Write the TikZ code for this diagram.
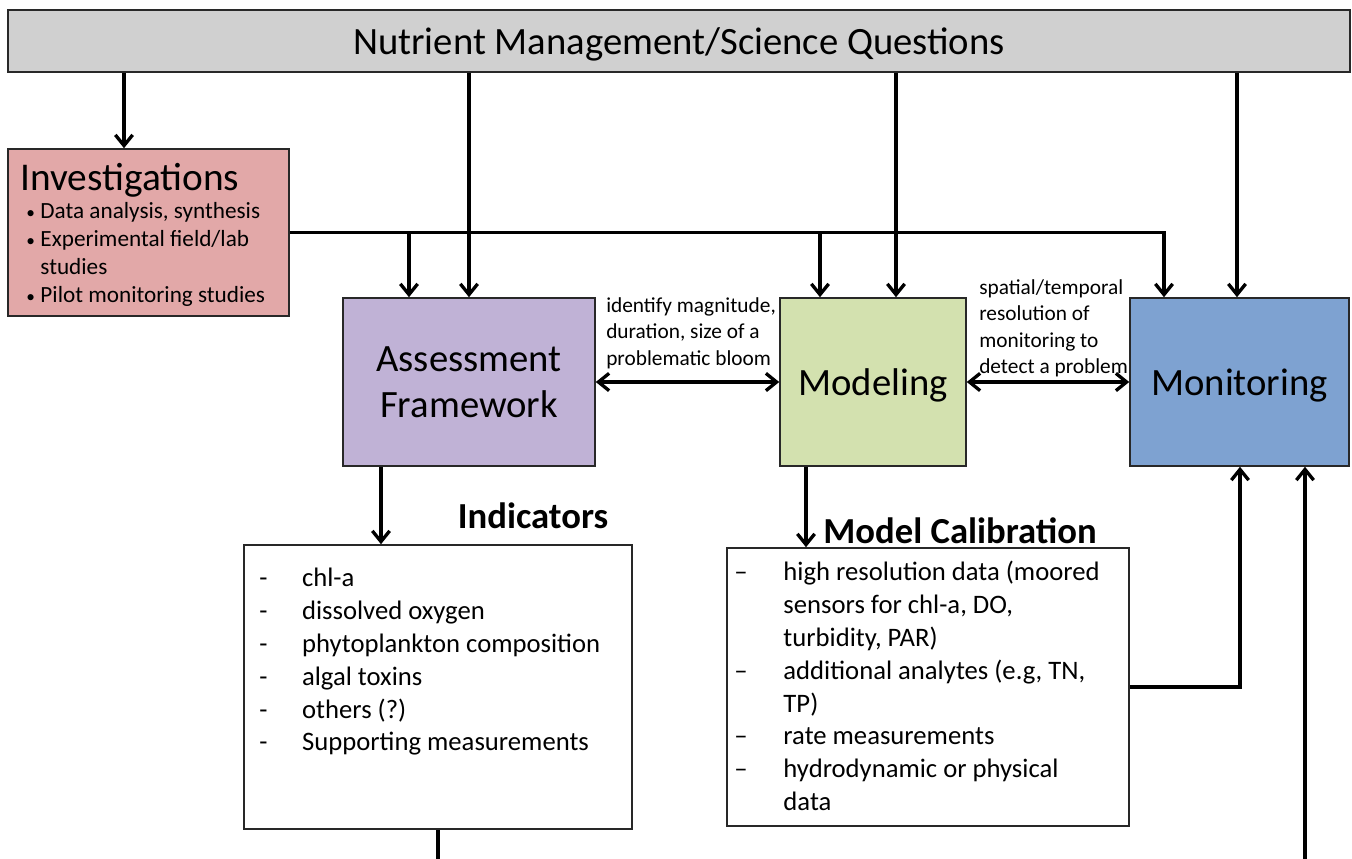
\documentclass[tikz,border=0pt]{standalone}
\usepackage{fontspec}
\setmainfont{Carlito}
\usetikzlibrary{arrows.meta,positioning,calc}

\definecolor{topgray}{RGB}{208,208,208}
\definecolor{invred}{RGB}{226,168,168}
\definecolor{afpurple}{RGB}{192,178,214}
\definecolor{modgreen}{RGB}{211,225,175}
\definecolor{monblue}{RGB}{126,162,209}
\definecolor{edgegray}{RGB}{40,40,40}

\newcommand{\invbullet}{\makebox[10.5pt][l]{\fontsize{13}{13}\selectfont\textbullet}}

\tikzset{
  box/.style={draw=edgegray, line width=1.2pt, inner sep=0pt},
  arr/.style={line width=2.5pt, -{Straight Barb[length=8pt,width=13pt]}},
  dblarr/.style={line width=2.5pt, {Straight Barb[length=8pt,width=13pt]}-{Straight Barb[length=8pt,width=13pt]}},
  plain/.style={line width=2.5pt},
  bigtext/.style={font=\fontsize{29}{34.5}\selectfont},
  note/.style={font=\fontsize{16}{19.9}\selectfont, align=left, inner sep=0pt},
  listtext/.style={font=\fontsize{20}{24.6}\selectfont, align=left, inner sep=0pt},
  heading/.style={font=\fontsize{27.5}{32}\selectfont\bfseries, inner sep=0pt},
}

\begin{document}
\begin{tikzpicture}[x=0.75pt,y=-0.75pt]
        \useasboundingbox (0,0) rectangle (1352,859);

        % Top box
        \node[box, fill=topgray, minimum width=1006.5pt, minimum height=46.5pt, text depth=0pt, bigtext] (top) at (679,41) {Nutrient Management/Science Questions};

        % Investigations box
        \node[box, fill=invred, minimum width=210.75pt, minimum height=125.25pt] (inv) at (148.5,232.5) {};
        \node[anchor=north west, inner sep=0pt, text depth=0pt, font=\fontsize{29.5}{34.5}\selectfont] (invTitle) at ([shift={(13,15)}]inv.north west) {Investigations};
        \node[anchor=north west, inner sep=0pt, align=left, font=\fontsize{17.4}{21}\selectfont] (invList) at ([shift={(19,53.5)}]inv.north west)
          {\invbullet Data analysis, synthesis\\
           \invbullet Experimental field/lab\\
           \hspace*{10.5pt}studies\\
           \invbullet Pilot monitoring studies};

        % Middle row boxes
        \node[box, fill=afpurple, minimum width=189pt, minimum height=126pt, bigtext, align=center] (assess) at (469,382) {Assessment\\Framework};
        \node[box, fill=modgreen, minimum width=139.5pt, minimum height=126pt, text depth=0pt, bigtext] (model) at (873,382) {Modeling};
        \node[box, fill=monblue, minimum width=164.25pt, minimum height=126pt, text depth=0pt, bigtext] (mon) at (1239.5,382) {Monitoring};

        % Labels of the double arrows
        \node[note, anchor=north west] (afNote) at (606,297) {identify magnitude,\\duration, size of a\\problematic bloom};
        \node[note, anchor=north west] (monNote) at (979,279) {spatial/temporal\\resolution of\\monitoring to\\detect a problem};

        % Bottom row boxes
        \node[box, minimum width=291pt, minimum height=213pt] (indBox) at (438,687) {};
        \node[heading, anchor=base] (indTitle) at (533,528) {Indicators};
        \node[listtext, anchor=north west] (indList) at ([shift={(16,24)}]indBox.north west)
          {\makebox[32pt][l]{-}chl-a\\
           \makebox[32pt][l]{-}dissolved oxygen\\
           \makebox[32pt][l]{-}phytoplankton composition\\
           \makebox[32pt][l]{-}algal toxins\\
           \makebox[32pt][l]{-}others (?)\\
           \makebox[32pt][l]{-}Supporting measurements};

        \node[box, minimum width=301.5pt, minimum height=208.5pt] (calBox) at (928,687) {};
        \node[heading, anchor=base] (calTitle) at (960,543) {Model Calibration};
        \node[listtext, anchor=north west] (calList) at ([shift={(8,14)}]calBox.north west)
          {\makebox[36.75pt][l]{--}high resolution data (moored\\
           \hspace*{36.75pt}sensors for chl-a, DO,\\
           \hspace*{36.75pt}turbidity, PAR)\\
           \makebox[36.75pt][l]{--}additional analytes (e.g, TN,\\
           \hspace*{36.75pt}TP)\\
           \makebox[36.75pt][l]{--}rate measurements\\
           \makebox[36.75pt][l]{--}hydrodynamic or physical\\
           \hspace*{36.75pt}data};

        % Connector ends
        \coordinate (invIn) at ([shift={(-24.5,0)}]inv.north);
        \coordinate (modIn) at ([shift={(23,0)}]model.north);
        \coordinate (monIn) at ([shift={(-2.5,0)}]mon.north);
        \coordinate (afInv) at ([shift={(-60,0)}]assess.north);
        \coordinate (modInv) at ([shift={(-53,0)}]model.north);
        \coordinate (monInv) at ([shift={(-75.5,0)}]mon.north);
        \coordinate (afOut) at ([shift={(-88,0)}]assess.south);
        \coordinate (modOut) at ([shift={(-67,0)}]model.south);
        \coordinate (monCal) at ([shift={(0.5,0)}]mon.south);
        \coordinate (monExt) at ([shift={(65.5,0)}]mon.south);
        \coordinate (pageBottom) at (0,859);

        % Arrows from the top box
        \draw[arr] (invIn |- top.south) -- (invIn);
        \draw[arr] (top.south -| assess.north) -- (assess.north);
        \draw[arr] (modIn |- top.south) -- (modIn);
        \draw[arr] (monIn |- top.south) -- (monIn);

        % Arrows from investigations
        \draw[arr] (inv.east) -| (monInv);
        \draw[arr] (inv.east -| afInv) -- (afInv);
        \draw[arr] (inv.east -| modInv) -- (modInv);

        % Double arrows
        \draw[dblarr] (assess.east) -- (model.west);
        \draw[dblarr] (model.east) -- (mon.west);

        % Arrows to and from the bottom row
        \draw[arr] (afOut) -- (afOut |- indBox.north);
        \draw[arr] (modOut) -- (modOut |- calBox.north);
        \draw[arr] (calBox.east) -| (monCal);
        \draw[arr] (monExt |- pageBottom) -- (monExt);
        \draw[plain] (indBox.south) -- (indBox.south |- pageBottom);
\end{tikzpicture}
\end{document}
